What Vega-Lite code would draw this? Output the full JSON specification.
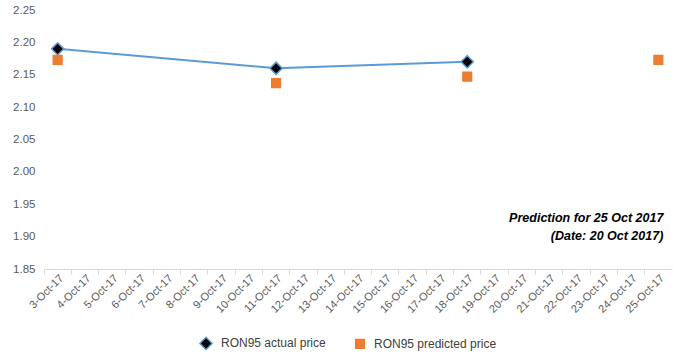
{
  "$schema": "https://vega.github.io/schema/vega-lite/v6.json",
  "autosize": "none",
  "width": 628,
  "height": 259,
  "padding": {"left": 44, "top": 10, "right": 9, "bottom": 92},
  "background": "white",
  "config": {
    "view": {"stroke": null},
    "font": "Liberation Sans",
    "axis": {"labelFont": "Liberation Sans", "labelColor": "#595959", "labelFontSize": 10.5, "grid": false},
    "axisY": {"labelOverlap": false, "labelFontSize": 11.5}
  },
  "resolve": {"axis": {"x": "independent"}},
  "datasets": {
    "dates": [
      {"d": "3-Oct-17"}, {"d": "4-Oct-17"}, {"d": "5-Oct-17"}, {"d": "6-Oct-17"}, {"d": "7-Oct-17"},
      {"d": "8-Oct-17"}, {"d": "9-Oct-17"}, {"d": "10-Oct-17"}, {"d": "11-Oct-17"}, {"d": "12-Oct-17"},
      {"d": "13-Oct-17"}, {"d": "14-Oct-17"}, {"d": "15-Oct-17"}, {"d": "16-Oct-17"}, {"d": "17-Oct-17"},
      {"d": "18-Oct-17"}, {"d": "19-Oct-17"}, {"d": "20-Oct-17"}, {"d": "21-Oct-17"}, {"d": "22-Oct-17"},
      {"d": "23-Oct-17"}, {"d": "24-Oct-17"}, {"d": "25-Oct-17"}
    ],
    "prices": [
      {"d": "3-Oct-17", "series": "RON95 actual price", "price": 2.19},
      {"d": "11-Oct-17", "series": "RON95 actual price", "price": 2.16},
      {"d": "18-Oct-17", "series": "RON95 actual price", "price": 2.17},
      {"d": "3-Oct-17", "series": "RON95 predicted price", "price": 2.173},
      {"d": "11-Oct-17", "series": "RON95 predicted price", "price": 2.137},
      {"d": "18-Oct-17", "series": "RON95 predicted price", "price": 2.147},
      {"d": "25-Oct-17", "series": "RON95 predicted price", "price": 2.173}
    ],
    "notes": [
      {"d": "25-Oct-17", "price": 1.929, "txt": "Prediction for 25 Oct 2017"},
      {"d": "25-Oct-17", "price": 1.901, "txt": "(Date: 20 Oct 2017)"}
    ]
  },
  "layer": [
    {
      "data": {"name": "dates"},
      "mark": {"type": "tick", "opacity": 0},
      "encoding": {
        "x": {
          "field": "d", "type": "ordinal", "sort": null,
          "scale": {"domain": ["3-Oct-17","4-Oct-17","5-Oct-17","6-Oct-17","7-Oct-17","8-Oct-17","9-Oct-17","10-Oct-17","11-Oct-17","12-Oct-17","13-Oct-17","14-Oct-17","15-Oct-17","16-Oct-17","17-Oct-17","18-Oct-17","19-Oct-17","20-Oct-17","21-Oct-17","22-Oct-17","23-Oct-17","24-Oct-17","25-Oct-17"], "paddingInner": 0, "paddingOuter": 0},
          "axis": {"title": null, "labelAngle": -45, "labelAlign": "right", "labelBaseline": "top", "ticks": false, "domain": false, "labelPadding": 3, "labelOverlap": false, "labelFontSize": 11}
        },
        "y": {"value": 0}
      }
    },
    {
      "data": {"name": "dates"},
      "mark": {"type": "tick", "opacity": 0},
      "encoding": {
        "x": {
          "field": "d", "type": "ordinal", "sort": null,
          "axis": {"title": null, "labels": false, "ticks": true, "tickColor": "#D9D9D9", "tickSize": 5, "domain": true, "domainColor": "#D9D9D9", "bandPosition": 0, "orient": "bottom"}
        },
        "y": {"value": 0}
      }
    },
    {
      "data": {"name": "prices"},
      "transform": [{"filter": "datum.series == 'RON95 actual price'"}],
      "mark": {"type": "line", "strokeWidth": 2},
      "encoding": {
        "x": {"field": "d", "type": "ordinal", "sort": null, "axis": null},
        "y": {
          "field": "price", "type": "quantitative",
          "scale": {"domain": [1.85, 2.25], "nice": false, "zero": false},
          "axis": {"title": null, "tickCount": 8, "format": ".2f", "domain": false, "ticks": false, "labelPadding": 9, "labelOverlap": false}
        },
        "stroke": {
          "field": "series", "type": "nominal",
          "scale": {"domain": ["RON95 actual price", "RON95 predicted price"], "range": ["#5B9BD5", "#ED7D31"]}
        }
      }
    },
    {
      "data": {"name": "prices"},
      "mark": {"type": "point", "filled": true, "strokeWidth": 1.5, "opacity": 1},
      "encoding": {
        "x": {"field": "d", "type": "ordinal", "sort": null, "axis": null},
        "y": {"field": "price", "type": "quantitative"},
        "size": {
          "field": "series", "type": "nominal",
          "scale": {"domain": ["RON95 actual price", "RON95 predicted price"], "range": [150, 75]},
          "legend": null
        },
        "shape": {
          "field": "series", "type": "nominal",
          "scale": {"domain": ["RON95 actual price", "RON95 predicted price"], "range": ["diamond", "square"]}
        },
        "fill": {
          "field": "series", "type": "nominal",
          "scale": {"domain": ["RON95 actual price", "RON95 predicted price"], "range": ["black", "#ED7D31"]}
        },
        "stroke": {
          "field": "series", "type": "nominal",
          "legend": {"title": null, "orient": "none", "legendX": 155, "legendY": 326, "direction": "horizontal", "labelFontSize": 12, "labelColor": "#404040", "columnPadding": 26, "symbolSize": 60, "labelOffset": 8}
        }
      }
    },
    {
      "data": {"name": "notes"},
      "mark": {"type": "text", "align": "right", "fontStyle": "italic", "fontWeight": "bold", "fontSize": 12.5, "dx": 5, "color": "black"},
      "encoding": {
        "x": {"field": "d", "type": "ordinal", "sort": null, "axis": null},
        "y": {"field": "price", "type": "quantitative"},
        "text": {"field": "txt"}
      }
    }
  ]
}
